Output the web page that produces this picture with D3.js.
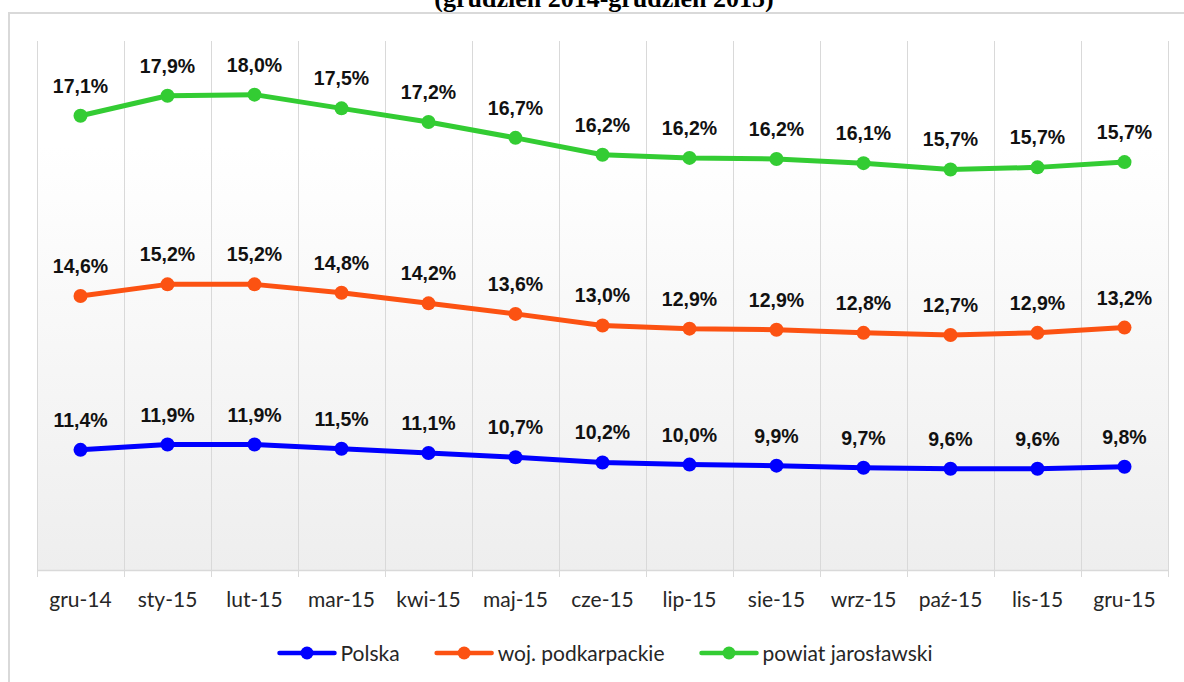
<!DOCTYPE html>
<html>
<head>
<meta charset="utf-8">
<script src="https://cdn.jsdelivr.net/npm/d3@7"></script>
<style>
  html, body { margin: 0; padding: 0; background: #ffffff; }
  svg { display: block; }
</style>
</head>
<body>
<svg id="chart" width="1184" height="682"></svg>
<script>
const categories = ["gru-14","sty-15","lut-15","mar-15","kwi-15","maj-15","cze-15","lip-15","sie-15","wrz-15","paź-15","lis-15","gru-15"];
const seriesNames = ["Polska","woj. podkarpackie","powiat jarosławski"];
const polska = [11.4,11.9,11.9,11.5,11.1,10.7,10.2,10.0,9.9,9.7,9.6,9.6,9.8];
const podkarpackie = [14.6,15.2,15.2,14.8,14.2,13.6,13.0,12.9,12.9,12.8,12.7,12.9,13.2];
const jaroslawski = [17.1,17.9,18.0,17.5,17.2,16.7,16.2,16.2,16.2,16.1,15.7,15.7,15.7];
const seriesColors = ["#0000ff","#fc5212","#33cc33"];
const titleText = "(grudzień 2014-grudzień 2015)";
const yMax = 50;

const svg = d3.select("#chart");
const plot = {left: 37, right: 1168, top: 41, bottom: 570};

const defs = svg.append("defs");
const grad = defs.append("linearGradient").attr("id","bg").attr("x1",0).attr("y1",0).attr("x2",0).attr("y2",1);
grad.append("stop").attr("offset","0%").attr("stop-color","#ffffff");
grad.append("stop").attr("offset","20%").attr("stop-color","#ffffff");
grad.append("stop").attr("offset","100%").attr("stop-color","#eeeeee");

// title (partly above the top edge, as in the reference)
svg.append("text")
  .attr("x", 604).attr("y", 7)
  .attr("text-anchor","middle")
  .attr("font-family","'Liberation Serif','Times New Roman',serif")
  .attr("font-weight","bold")
  .attr("font-size", 26)
  .attr("fill","#000")
  .text(titleText);

svg.append("rect")
  .attr("x", 9).attr("y", 13).attr("width", 1200).attr("height", 700)
  .attr("fill","none").attr("stroke","#d9d9d9").attr("stroke-width",2);

const x = d3.scaleBand().domain(categories).range([plot.left, plot.right]).padding(0);
const y = d3.scaleLinear().domain([0, yMax]).range([plot.bottom, 43]);

svg.append("rect")
  .attr("x", plot.left).attr("y", plot.top)
  .attr("width", plot.right - plot.left).attr("height", plot.bottom - plot.top)
  .attr("fill","url(#bg)");

const bounds = categories.map(c => x(c)).concat([plot.right]);
svg.append("g").selectAll("line").data(bounds).join("line")
  .attr("x1", d => Math.round(d) + 0.5).attr("x2", d => Math.round(d) + 0.5)
  .attr("y1", plot.top).attr("y2", plot.bottom + 7)
  .attr("stroke","#d9d9d9").attr("stroke-width",1);

const xAxis = svg.append("g")
  .attr("transform", `translate(0,${plot.bottom})`)
  .call(d3.axisBottom(x).tickSize(0).tickPadding(30));
xAxis.select(".domain").attr("stroke","#d9d9d9").attr("stroke-width",1.5);
xAxis.selectAll("text")
  .attr("font-family","Lato, 'Open Sans', sans-serif")
  .attr("font-size", 21)
  .attr("fill","#262626")
  .attr("dy", null)
  .attr("y", 37);

const raw = [polska, podkarpackie, jaroslawski];
const stacked = [];
raw.forEach((arr, si) => {
  stacked.push(arr.map((v, i) => {
    const base = si === 0 ? 0 : stacked[si-1][i].top;
    return {cat: categories[i], value: v, top: base + v};
  }));
});

const line = d3.line().x(d => x(d.cat) + x.bandwidth()/2).y(d => y(d.top));

stacked.forEach((s, si) => {
  const g = svg.append("g");
  g.append("path").datum(s)
    .attr("d", line)
    .attr("fill","none")
    .attr("stroke", seriesColors[si])
    .attr("stroke-width", 5)
    .attr("stroke-linejoin","round")
    .attr("stroke-linecap","round");
  g.selectAll("circle").data(s).join("circle")
    .attr("cx", d => x(d.cat) + x.bandwidth()/2)
    .attr("cy", d => y(d.top))
    .attr("r", 7)
    .attr("fill", seriesColors[si]);
  g.selectAll("text").data(s).join("text")
    .attr("x", d => x(d.cat) + x.bandwidth()/2)
    .attr("y", d => y(d.top) - 23)
    .attr("text-anchor","middle")
    .attr("font-family","'Liberation Sans', Arial, sans-serif")
    .attr("font-weight","bold")
    .attr("font-size", 19.5)
    .attr("fill","#111")
    .text(d => d.value.toFixed(1).replace(".", ",") + "%");
});

const legend = svg.append("g");
const items = [];
let cx = 0;
seriesNames.forEach((name, i) => {
  const g = legend.append("g");
  g.append("line").attr("x1", 0).attr("x2", 55).attr("y1", 0).attr("y2", 0)
    .attr("stroke", seriesColors[i]).attr("stroke-width", 4.5).attr("stroke-linecap","round");
  g.append("circle").attr("cx", 27.5).attr("cy", 0).attr("r", 6.5).attr("fill", seriesColors[i]);
  const t = g.append("text").attr("x", 61).attr("y", 7.5)
    .attr("font-family","Lato, 'Open Sans', sans-serif")
    .attr("font-size", 21).attr("fill","#262626").text(name);
  const w = 61 + t.node().getComputedTextLength();
  items.push({g, x: cx});
  cx += w + 37;
});
const totalW = cx - 37;
const startX = 606 - totalW / 2;
items.forEach(it => it.g.attr("transform", `translate(${startX + it.x},653)`));
</script>
</body>
</html>
